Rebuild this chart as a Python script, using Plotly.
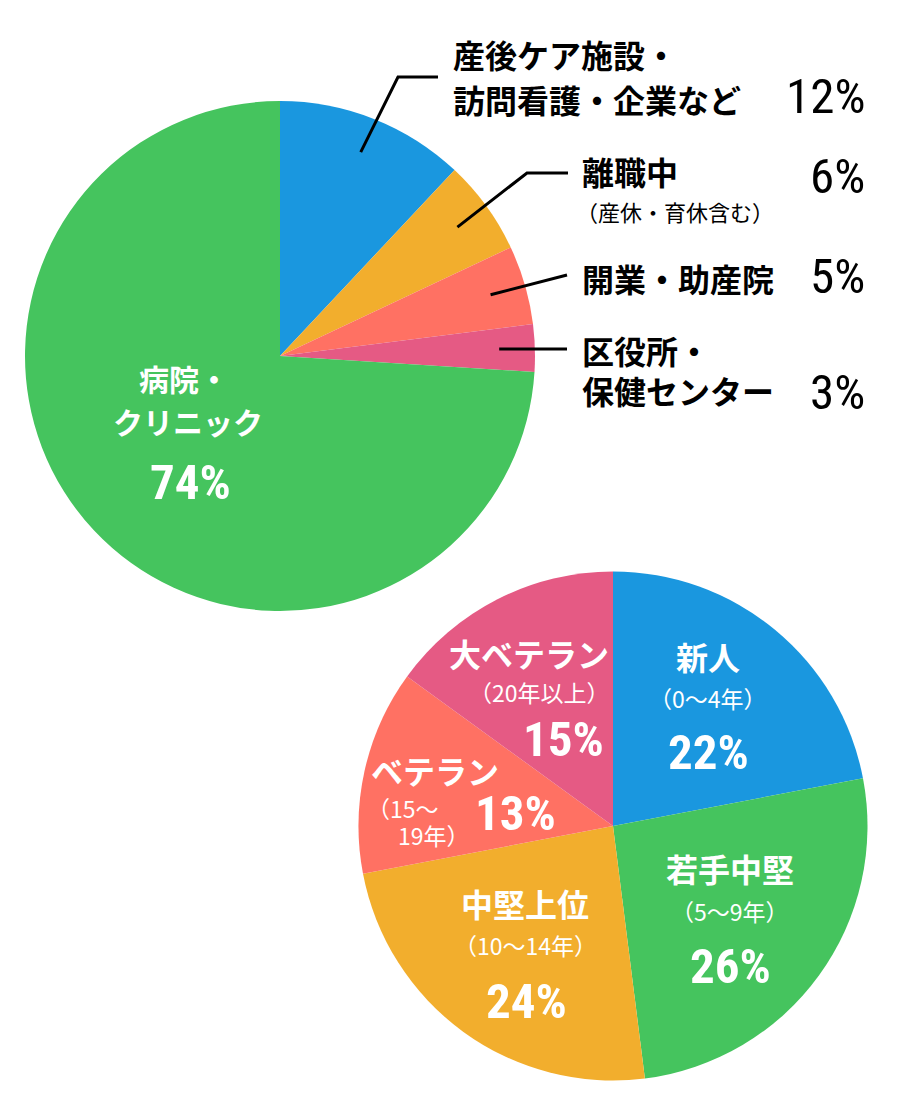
import math
import plotly.graph_objects as go

# ---------------- data ----------------
top_labels = ["産後ケア施設・訪問看護・企業など", "離職中（産休・育休含む）", "開業・助産院",
              "区役所・保健センター", "病院・クリニック"]
top_values = [12, 6, 5, 3, 74]
top_colors = ["#1A97DF", "#F2AE2D", "#FF7163", "#E55A84", "#45C45E"]

bottom_labels = ["新人", "若手中堅", "中堅上位", "ベテラン", "大ベテラン"]
bottom_sub = ["（0〜4年）", "（5〜9年）", "（10〜14年）", "（15〜19年）", "（20年以上）"]
bottom_values = [22, 26, 24, 13, 15]
bottom_colors = ["#1A97DF", "#45C45E", "#F2AE2D", "#FF7163", "#E55A84"]

# ---------------- layout helpers ----------------
W, H = 897, 1115
def X(px):
    return px / W
def Y(py):
    return 1 - py / H

JP = "Noto Sans CJK JP"
NUM = "Roboto Condensed, Roboto, Noto Sans CJK JP"

top_c, top_r = (280, 356), 255
bot_c, bot_r = (613, 826), 254.5

fig = go.Figure()
fig.add_trace(go.Pie(
    labels=top_labels, values=top_values, sort=False, direction="clockwise", rotation=0,
    marker=dict(colors=top_colors, line=dict(width=0)), textinfo="none", hoverinfo="skip",
    showlegend=False,
    domain=dict(x=[X(top_c[0] - top_r), X(top_c[0] + top_r)],
                y=[Y(top_c[1] + top_r), Y(top_c[1] - top_r)]),
))
fig.add_trace(go.Pie(
    labels=bottom_labels, values=bottom_values, sort=False, direction="clockwise", rotation=0,
    marker=dict(colors=bottom_colors, line=dict(width=0)), textinfo="none", hoverinfo="skip",
    showlegend=False,
    domain=dict(x=[X(bot_c[0] - bot_r), X(bot_c[0] + bot_r)],
                y=[Y(bot_c[1] + bot_r), Y(bot_c[1] - bot_r)]),
))

ann = []
def txt(text, x, y, size, color="black", anchor="left", family=JP, weight="bold"):
    ann.append(dict(text=text, x=X(x), y=Y(y), xref="paper", yref="paper",
                    xanchor=anchor, yanchor="middle", showarrow=False,
                    font=dict(family=family, size=size, color=color, weight=weight)))

PS = 49  # percent font size
# ---- top pie outside labels ----
txt("産後ケア施設・", 451, 54, 32)
txt("訪問看護・企業など", 451, 99, 32)
txt(f"{top_values[0]}%", 867, 97, PS, anchor="right", family=NUM, weight="normal")
txt("離職中", 580, 171, 32)
txt("（産休・育休含む）", 574, 211, 22, weight="normal")
txt(f"{top_values[1]}%", 867, 176, PS, anchor="right", family=NUM, weight="normal")
txt("開業・助産院", 580, 278, 32)
txt(f"{top_values[2]}%", 867, 276, PS, anchor="right", family=NUM, weight="normal")
txt("区役所・", 580, 350, 32)
txt("保健センター", 580, 390, 32)
txt(f"{top_values[3]}%", 867, 393, PS, anchor="right", family=NUM, weight="normal")

# ---- top pie inside label ----
txt("病院・", 184, 378, 30, color="white", anchor="center")
txt("クリニック", 188, 421, 30, color="white", anchor="center")
txt(f"{top_values[4]}%", 190, 482, PS, color="white", anchor="center", family=NUM)

# ---- bottom pie labels ----
txt(bottom_labels[0], 708, 656, 32, color="white", anchor="center")
txt(bottom_sub[0], 708, 698, 23, color="white", anchor="center", weight="normal")
txt(f"{bottom_values[0]}%", 708, 752, PS, color="white", anchor="center", family=NUM)

txt(bottom_labels[1], 730, 868, 32, color="white", anchor="center")
txt(bottom_sub[1], 730, 911, 23, color="white", anchor="center", weight="normal")
txt(f"{bottom_values[1]}%", 730, 966, PS, color="white", anchor="center", family=NUM)

txt(bottom_labels[2], 525, 903, 32, color="white", anchor="center")
txt(bottom_sub[2], 525, 945, 23, color="white", anchor="center", weight="normal")
txt(f"{bottom_values[2]}%", 526, 1001, PS, color="white", anchor="center", family=NUM)

txt(bottom_labels[3], 369, 770, 32, color="white", anchor="left")
txt(bottom_sub[3][:4], 365, 808, 23, color="white", anchor="left", weight="normal")
txt(bottom_sub[3][4:], 472, 835, 23, color="white", anchor="right", weight="normal")
txt(f"{bottom_values[3]}%", 515, 813, PS, color="white", anchor="center", family=NUM)

txt(bottom_labels[4], 611, 653, 32, color="white", anchor="right")
txt(bottom_sub[4], 612, 692, 23, color="white", anchor="right", weight="normal")
txt(f"{bottom_values[4]}%", 606, 739, PS, color="white", anchor="right", family=NUM)

# ---- leader lines (start at each slice's mid angle) ----
cum = 0
starts = []
total = sum(top_values)
for v in top_values:
    mid = (cum + v / 2) / total * 2 * math.pi
    cum += v
    rr = 0.86 * top_r
    starts.append((top_c[0] + rr * math.sin(mid), top_c[1] - rr * math.cos(mid)))

routes = [
    [(398, 77), (438, 77)],
    [(527, 173), (568, 173)],
    [(567, 275)],
    [(567, None)],
]
shapes = []
for i, route in enumerate(routes):
    pts = [starts[i]]
    for (px, py) in route:
        pts.append((px, py if py is not None else starts[i][1]))
    path = "M " + " L ".join(f"{X(a):.5f},{Y(b):.5f}" for a, b in pts)
    shapes.append(dict(type="path", path=path, xref="paper", yref="paper",
                       line=dict(color="black", width=3)))

fig.update_layout(
    width=W, height=H, margin=dict(l=0, r=0, t=0, b=0),
    paper_bgcolor="white", plot_bgcolor="white",
    annotations=ann, shapes=shapes,
)
fig.write_html("out.html", config={"displayModeBar": False},
               post_script="document.body.style.margin='0';")
